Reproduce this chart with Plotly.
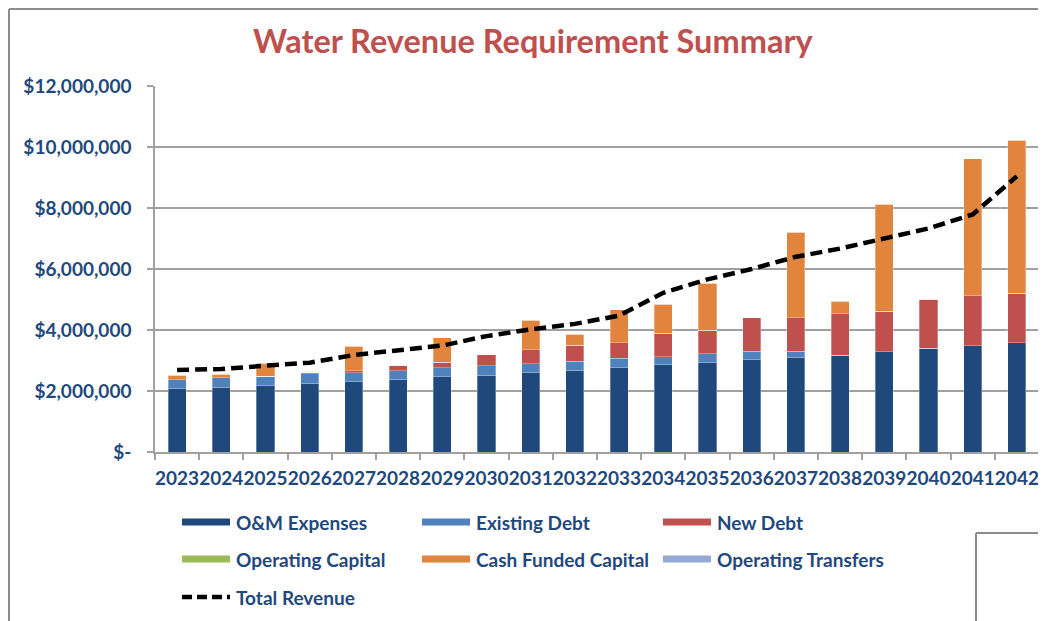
import plotly.graph_objects as go

years = [str(y) for y in range(2023, 2043)]

om_expenses = [2070000, 2130000, 2190000, 2250000, 2310000, 2370000, 2460000, 2520000, 2610000, 2680000,
               2760000, 2860000, 2930000, 3020000, 3100000, 3170000, 3290000, 3400000, 3480000, 3580000]
existing_debt = [300000, 310000, 300000, 320000, 290000, 300000, 300000, 310000, 290000, 300000,
                 310000, 260000, 290000, 290000, 210000, 0, 0, 0, 0, 0]
new_debt = [0, 0, 0, 40000, 70000, 180000, 180000, 360000, 460000, 520000,
            510000, 780000, 770000, 1100000, 1100000, 1360000, 1330000, 1610000, 1650000, 1630000]
operating_capital = [0] * 20
cash_funded_capital = [140000, 110000, 420000, 0, 800000, 0, 800000, 0, 960000, 360000,
                       1080000, 940000, 1550000, 0, 2790000, 420000, 3500000, 0, 4480000, 5010000]
operating_transfers = [0] * 20
total_revenue = [2690000, 2720000, 2830000, 2930000, 3180000, 3340000, 3490000, 3800000, 4020000, 4200000,
                 4470000, 5220000, 5660000, 6000000, 6400000, 6670000, 7000000, 7330000, 7790000, 9040000]

y_tickvals = [0, 2000000, 4000000, 6000000, 8000000, 10000000, 12000000]
y_ticktext = ["$-", "$2,000,000", "$4,000,000", "$6,000,000", "$8,000,000", "$10,000,000", "$12,000,000"]

series = [
    ("O&M Expenses", om_expenses, "#1F497D"),
    ("Existing Debt", existing_debt, "#4F81BD"),
    ("New Debt", new_debt, "#C0504D"),
    ("Operating Capital", operating_capital, "#9BBB59"),
    ("Cash Funded Capital", cash_funded_capital, "#E0843E"),
    ("Operating Transfers", operating_transfers, "#95A9D4"),
]

TXT = "#1F497D"
FONT = "Lato"
GRID = "#A0A0A0"

fig = go.Figure()
for name, vals, col in series:
    fig.add_trace(go.Bar(x=years, y=vals, name=name, marker=dict(color=col, line=dict(color="rgba(255,255,255,0.5)", width=0.6)),
                         showlegend=False))
fig.add_trace(go.Scatter(x=years, y=total_revenue, name="Total Revenue", mode="lines",
                         line=dict(color="black", width=4.5, dash="12px,6px"), showlegend=False))

# page offset (default body margin) and plot area in screen pixels
OFF = 8
W, H = 1046 - OFF, 621 - OFF
L, R, T, B = 155, 1039, 86, 452


def px(x):
    return (x - L) / (R - L)


def py(y):
    return (B - y) / (B - T)


fig.update_layout(
    width=W, height=H,
    margin=dict(l=L - OFF, r=1046 - R, t=T - OFF, b=621 - B, autoexpand=False),
    paper_bgcolor="white", plot_bgcolor="white",
    barmode="stack", bargap=0.59,
    font=dict(family=FONT, color=TXT),
    xaxis=dict(type="category", tickson="boundaries", ticks="outside", ticklen=6, tickcolor=GRID, tickwidth=1.5,
               showline=True, linecolor=GRID, linewidth=1.5, showgrid=False, tickangle=0, automargin=False,
               tickfont=dict(family=FONT, size=19, color=TXT, weight="bold"), ticklabelstandoff=8),
    yaxis=dict(range=[0, 12000000], tickvals=y_tickvals, ticktext=y_ticktext, ticks="outside", ticklen=6,
               tickcolor=GRID, tickwidth=1.5, showline=True, linecolor=GRID, linewidth=1.5, automargin=False,
               showgrid=True, gridcolor=GRID, gridwidth=1.5, zeroline=False,
               tickfont=dict(family=FONT, size=19, color=TXT, weight="bold"), ticklabelstandoff=12),
)

annotations = [dict(text="Water Revenue Requirement Summary", x=px(533), y=py(41), xref="paper", yref="paper",
                    xanchor="center", yanchor="middle", showarrow=False,
                    font=dict(family=FONT, size=32.5, color="#C0504D", weight="bold"))]
shapes = []

LEG = 19
legend_items = [
    ("O&M Expenses", "#1F497D", 182, 522),
    ("Existing Debt", "#4F81BD", 422, 522),
    ("New Debt", "#C0504D", 663, 522),
    ("Operating Capital", "#9BBB59", 182, 559),
    ("Cash Funded Capital", "#E0843E", 422, 559),
    ("Operating Transfers", "#95A9D4", 663, 559),
]
for name, col, x0, yc in legend_items:
    shapes.append(dict(type="rect", xref="paper", yref="paper", x0=px(x0), x1=px(x0 + 48),
                       y0=py(yc + 3.5), y1=py(yc - 3.5), fillcolor=col, line=dict(width=0)))
    annotations.append(dict(text=name, x=px(x0 + 52), y=py(yc), xref="paper", yref="paper", xanchor="left",
                            yanchor="middle", showarrow=False,
                            font=dict(family=FONT, size=LEG, color=TXT, weight="bold")))
shapes.append(dict(type="line", xref="paper", yref="paper", x0=px(182), x1=px(230), y0=py(597), y1=py(597),
                   line=dict(color="black", width=4.5, dash="10px,5px")))
annotations.append(dict(text="Total Revenue", x=px(234), y=py(597), xref="paper", yref="paper", xanchor="left",
                        yanchor="middle", showarrow=False,
                        font=dict(family=FONT, size=LEG, color=TXT, weight="bold")))

# chart border (top and left) and neighbouring box outline
border = "#8C8C8C"
shapes.append(dict(type="line", xref="paper", yref="paper", x0=px(9), x1=px(1046), y0=py(9), y1=py(9),
                   line=dict(color=border, width=2)))
shapes.append(dict(type="line", xref="paper", yref="paper", x0=px(9), x1=px(9), y0=py(9), y1=py(621),
                   line=dict(color=border, width=2)))
shapes.append(dict(type="line", xref="paper", yref="paper", x0=px(976), x1=px(1046), y0=py(533), y1=py(533),
                   line=dict(color=border, width=2)))
shapes.append(dict(type="line", xref="paper", yref="paper", x0=px(976), x1=px(976), y0=py(533), y1=py(621),
                   line=dict(color=border, width=2)))

fig.update_layout(annotations=annotations, shapes=shapes)
fig.write_html("out.html")
